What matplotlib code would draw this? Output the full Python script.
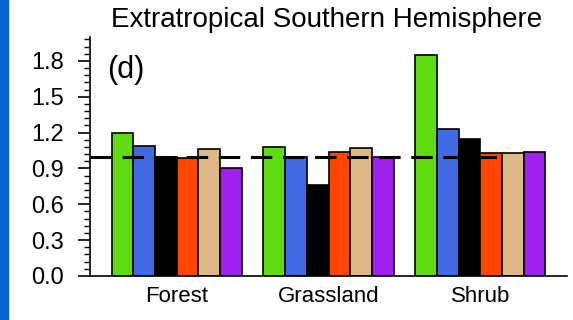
import matplotlib
matplotlib.use("Agg")
import matplotlib.pyplot as plt
from matplotlib.ticker import MultipleLocator, FormatStrFormatter
import numpy as np

# regions along x, six model runs per region
regions = ["Forest", "Grassland", "Shrub"]
green = [1.20, 1.08, 1.85]
blue = [1.09, 1.00, 1.23]
black = [1.00, 0.765, 1.15]
red = [0.99, 1.035, 1.03]
tan = [1.065, 1.07, 1.03]
purple = [0.90, 1.00, 1.04]
reference = 1.0

series = [green, blue, black, red, tan, purple]
colours = ["#5fdc12", "#4169e1", "#000000", "#ff4500", "#deb887", "#a020f0"]

plt.rcParams['font.family'] = ['Liberation Sans', 'DejaVu Sans']

fig = plt.figure(figsize=(5.73, 3.2), dpi=100)
fig.patches.append(plt.Rectangle((0, 0), 8/573, 1, transform=fig.transFigure,
                                 color="#0a64d2", zorder=0))
ax = fig.add_axes([90/573, 1-276/320, 477/573, 239/320])

w = 1.0
centers = np.array([4.0, 11.0, 18.0])
for k, vals in enumerate(series):
    ax.bar(centers - 2.5*w + k*w, vals, width=w, color=colours[k],
           edgecolor="black", linewidth=1.2, zorder=2)

# dashed reference line, stops part way through the last group
ax.plot([0, 18.9], [reference, reference], color="black",
        linestyle=(0, (7, 3.5)), linewidth=2.2, zorder=3)

ax.set_xlim(0, 22)
ax.set_ylim(0, 2.0)
ax.set_xticks(centers)
ax.set_xticklabels(regions, fontsize=16)
ax.tick_params(axis='x', length=0, pad=7)
ax.yaxis.set_major_locator(MultipleLocator(0.3))
ax.yaxis.set_minor_locator(MultipleLocator(0.06))
ax.yaxis.set_major_formatter(FormatStrFormatter('%.1f'))
ax.tick_params(axis='y', which='major', length=9, width=1.2, labelsize=17, pad=10)
ax.tick_params(axis='y', which='minor', length=4.5, width=1)
for s in ['top', 'right']:
    ax.spines[s].set_visible(False)
for s in ['left', 'bottom']:
    ax.spines[s].set_linewidth(1.2)

ax.text(0.036, 0.862, "(d)", transform=ax.transAxes, fontsize=22, va='center')
fig.text(327/573, 1-20/320, "Extratropical Southern Hemisphere", fontsize=20,
         ha='center', va='center')

fig.savefig("out.png", dpi=100)
